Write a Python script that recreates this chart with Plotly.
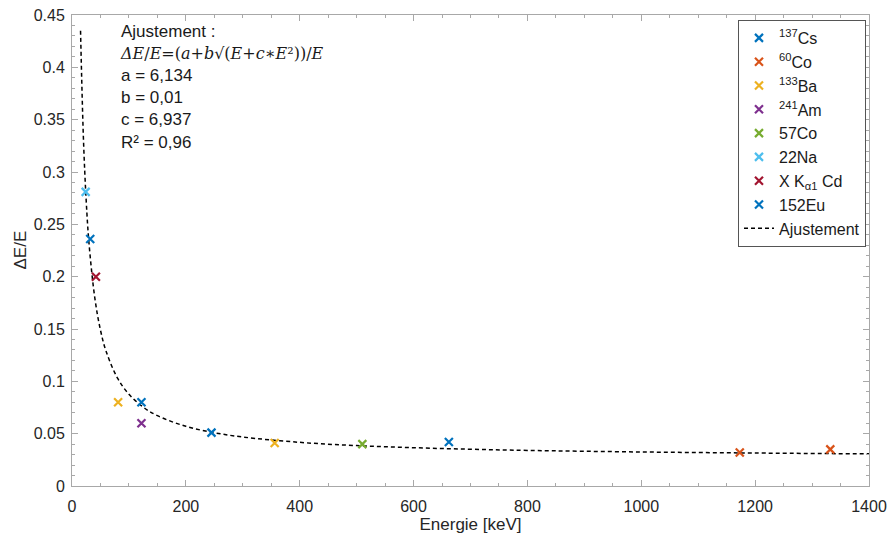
import plotly.graph_objects as go

# ---- data ----
cs137_E = [32, 662]
cs137_R = [0.236, 0.042]
co60_E = [1173, 1332]
co60_R = [0.032, 0.035]
ba133_E = [81, 356]
ba133_R = [0.080, 0.041]
am241_E = [122]
am241_R = [0.060]
co57_E = [510]
co57_R = [0.040]
na22_E = [24]
na22_R = [0.281]
cd_E = [42]
cd_R = [0.200]
eu152_E = [122, 245]
eu152_R = [0.080, 0.051]

fit_E = [15, 20, 25, 30, 40, 50, 60, 80, 100, 125, 150, 200, 250, 300, 400, 500,
         600, 700, 800, 1000, 1200, 1400]
fit_R = [0.435, 0.333, 0.272, 0.231, 0.180, 0.149, 0.1286, 0.103, 0.0877, 0.0754,
         0.0672, 0.0570, 0.0509, 0.0468, 0.0417, 0.0386, 0.0366, 0.0351, 0.0340,
         0.0325, 0.0315, 0.0307]

series = [
    ("<sup>137</sup>Cs", cs137_E, cs137_R, "#0072BD"),
    ("<sup>60</sup>Co", co60_E, co60_R, "#D95319"),
    ("<sup>133</sup>Ba", ba133_E, ba133_R, "#EDB120"),
    ("<sup>241</sup>Am", am241_E, am241_R, "#7E2F8E"),
    ("57Co", co57_E, co57_R, "#77AC30"),
    ("22Na", na22_E, na22_R, "#4DBEEE"),
    ("X K<sub>α1</sub> Cd", cd_E, cd_R, "#A2142F"),
    ("152Eu", eu152_E, eu152_R, "#0072BD"),
]

fig = go.Figure()
fig.add_trace(go.Scatter(x=fit_E, y=fit_R, mode="lines", name="Ajustement",
                         line=dict(color="black", dash="4px,3px", width=1.5, shape="spline"),
                         showlegend=False))
for name, xs, ys, col in series:
    fig.add_trace(go.Scatter(x=xs, y=ys, mode="markers", name=name,
                             marker=dict(symbol="x-thin", size=8,
                                         line=dict(color=col, width=2.2), color=col)))
fig.add_trace(go.Scatter(x=[None], y=[None], mode="lines", name="Ajustement",
                         line=dict(color="black", dash="4px,3px", width=1.5)))

axcol = "#a8a8a8"
fig.update_xaxes(range=[0, 1400], tickvals=[0, 200, 400, 600, 800, 1000, 1200, 1400],
                 ticks="inside", ticklen=6, tickcolor=axcol, showline=True, linecolor=axcol,
                 mirror="ticks", showgrid=False, zeroline=False, automargin=False,
                 ticklabelstandoff=6,
                 minor=dict(ticks="inside", dtick=50, ticklen=3, tickcolor=axcol),
                 title=dict(text="Energie [keV]", font=dict(size=17, color="#262626"), standoff=0),
                 tickfont=dict(size=16, color="#262626"))
fig.update_yaxes(range=[0, 0.45], tickvals=[0, 0.05, 0.1, 0.15, 0.2, 0.25, 0.3, 0.35, 0.4, 0.45],
                 ticktext=["0", "0.05", "0.1", "0.15", "0.2", "0.25", "0.3", "0.35", "0.4", "0.45"],
                 ticks="inside", ticklen=6, tickcolor=axcol, showline=True, linecolor=axcol,
                 mirror="ticks", showgrid=False, zeroline=False, automargin=False,
                 ticklabelstandoff=3,
                 minor=dict(ticks="inside", dtick=0.01, ticklen=3, tickcolor=axcol),
                 tickfont=dict(size=16, color="#262626"))

# y-axis title as an annotation to place it precisely
fig.add_annotation(xref="paper", yref="paper", x=(20 - 72) / 797, y=0.5,
                   xanchor="center", yanchor="middle", textangle=-90, showarrow=False,
                   text="ΔE/E", font=dict(size=17, color="#262626"))

ann = ("Ajustement :<br>"
       "<span style='font-family:DejaVu Serif;font-size:16px'><i>ΔE</i>/<i>E</i>=(<i>a</i>+<i>b</i>√(<i>E</i>+<i>c</i>∗<i>E</i>²))/<i>E</i></span><br>"
       "a = 6,134<br>b = 0,01<br>c = 6,937<br>R² = 0,96")
fig.add_annotation(xref="paper", yref="paper", x=(118 - 72) / 797, y=(486 - 20) / 471,
                   xanchor="left", yanchor="top", align="left", showarrow=False,
                   text=ann, font=dict(size=17, color="#1a1a1a", family="Liberation Sans"))

fig.update_layout(
    width=889, height=540,
    margin=dict(l=72, r=20, t=15, b=54),
    paper_bgcolor="white", plot_bgcolor="white",
    font=dict(family="Liberation Sans", color="#262626"),
    legend=dict(x=(866 - 72) / 797, y=(486 - 20) / 471, xanchor="right", yanchor="top",
                bgcolor="white", bordercolor="#555555", borderwidth=1,
                font=dict(size=16, color="#1a1a1a"), itemwidth=30, tracegroupgap=0),
)

fig.write_html("out.html", post_script="document.body.style.margin='0';",
               config={"displayModeBar": False})
